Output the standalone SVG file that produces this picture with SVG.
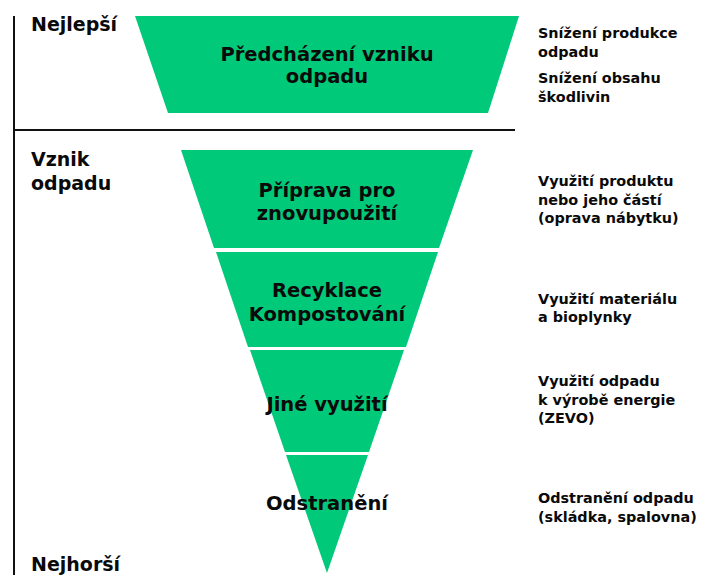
<svg xmlns="http://www.w3.org/2000/svg" width="714" height="575" viewBox="0 0 714 575">
<style>
.seg{fill:#00C979}
.t{font-family:"DejaVu Sans",Inter,sans-serif;font-weight:700;fill:#0a0a0a}
.c{font-size:19.5px;text-anchor:middle}
.l{font-size:19px}
.r{font-size:14.4px}
.ax{stroke:#111;stroke-width:2;fill:none}
</style>
<rect width="714" height="575" fill="#fff"/>
<g id="axes">
<line class="ax" x1="14" y1="16" x2="14" y2="575"/>
<line class="ax" x1="14" y1="130" x2="515" y2="130"/>
</g>
<g id="labels-left">
<text class="t l" x="31" y="31">Nejlepší</text>
<text class="t l" x="31" y="166">Vznik</text>
<text class="t l" x="31" y="190">odpadu</text>
<text class="t l" x="31" y="571">Nejhorší</text>
</g>
<g id="prevence">
<polygon class="seg" points="135,16 519,16 488,113 168,113"/>
<text class="t c" x="327" y="61">Předcházení vzniku</text>
<text class="t c" x="327" y="83">odpadu</text>
</g>
<g id="priprava">
<polygon class="seg" points="181,150 473,150 439,248 214,248"/>
<text class="t c" x="327" y="197">Příprava pro</text>
<text class="t c" x="327" y="220">znovupoužití</text>
</g>
<g id="recyklace">
<polygon class="seg" points="216,252 438,252 406,347 248,347"/>
<text class="t c" x="327" y="297">Recyklace</text>
<text class="t c" x="327" y="321">Kompostování</text>
</g>
<g id="jine">
<polygon class="seg" points="250,350 404,350 369,452 285,452"/>
<text class="t c" x="327" y="411">Jiné využití</text>
</g>
<g id="odstraneni">
<polygon class="seg" points="286,455 368,455 327,573"/>
<text class="t c" x="327" y="510">Odstranění</text>
</g>
<g id="labels-right">
<text class="t r" x="538" y="38">Snížení produkce</text>
<text class="t r" x="538" y="57">odpadu</text>
<text class="t r" x="538" y="83">Snížení obsahu</text>
<text class="t r" x="538" y="102">škodlivin</text>
<text class="t r" x="538" y="186">Využití produktu</text>
<text class="t r" x="538" y="205">nebo jeho částí</text>
<text class="t r" x="538" y="223">(oprava nábytku)</text>
<text class="t r" x="538" y="304">Využití materiálu</text>
<text class="t r" x="538" y="322">a bioplynky</text>
<text class="t r" x="538" y="386">Využití odpadu</text>
<text class="t r" x="538" y="405">k výrobě energie</text>
<text class="t r" x="538" y="423">(ZEVO)</text>
<text class="t r" x="538" y="503">Odstranění odpadu</text>
<text class="t r" x="538" y="522">(skládka, spalovna)</text>
</g>
</svg>
